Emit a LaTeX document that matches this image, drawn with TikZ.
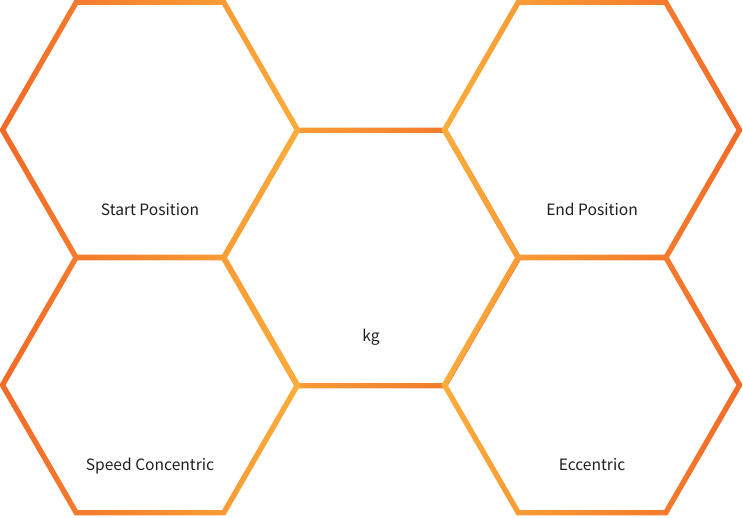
\documentclass[tikz,border=0pt]{standalone}
\usepackage{fontspec}
\setmainfont{Noto Sans CJK KR}
\usepackage{tikz}

\definecolor{hexdark}{HTML}{F26A28}
\definecolor{hexlight}{HTML}{FBAD3B}

\tikzset{
  hextext/.style={anchor=base, font=\fontsize{15.6}{18}\selectfont, text=black!88},
}

% ring of a hexagon, shaded from left to right
\newcommand{\hexring}[3]{%
  \begin{scope}[shift={(#1)}]
    \shade[left color=#2, right color=#3, even odd rule]
      (0:150.6) \foreach \a in {60,120,...,300}{ -- (\a:150.6)} -- cycle
      (0:144.4) \foreach \a in {60,120,...,300}{ -- (\a:144.4)} -- cycle;
  \end{scope}}

\begin{document}
\begin{tikzpicture}[x=1pt, y=-1pt]
\useasboundingbox (0,0) rectangle (743,517);

\coordinate (start) at (150,130);
\coordinate (end) at (592,130);
\coordinate (mass) at (371,258);
\coordinate (conc) at (150,385);
\coordinate (ecc) at (592,385);

\hexring{mass}{hexlight}{hexdark}
\hexring{start}{hexdark}{hexlight}
\hexring{conc}{hexdark}{hexlight}
\hexring{end}{hexlight}{hexdark}
\hexring{ecc}{hexlight}{hexdark}

\node[hextext] (startlbl) at (150,215) {Start Position};
\node[hextext] (endlbl) at (592,215) {End Position};
\node[hextext] (masslbl) at (371,341) {kg};
\node[hextext] (conclbl) at (150,470) {Speed Concentric};
\node[hextext] (ecclbl) at (592,470) {Eccentric};
\end{tikzpicture}
\end{document}
